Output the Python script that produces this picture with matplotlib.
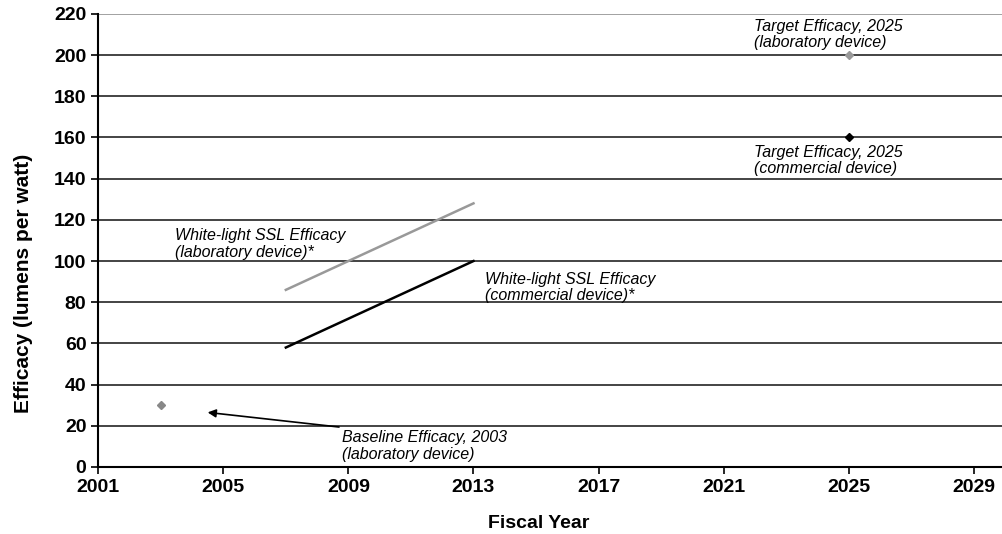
import matplotlib.pyplot as plt

plt.rcParams['font.family'] = ['Liberation Sans', 'DejaVu Sans']

# white-light SSL efficacy trend lines
years_line = [2007, 2013]
lab_efficacy = [86, 128]
commercial_efficacy = [58, 100]

# single points
baseline_year = [2003]
baseline_value = [30]
target_year = [2025]
target_lab = [200]
target_commercial = [160]

x_ticks = [2001, 2005, 2009, 2013, 2017, 2021, 2025, 2029]
y_ticks = list(range(0, 221, 20))

fig = plt.figure(figsize=(10.02, 5.34), dpi=100)
ax = fig.add_axes([0.098, 0.1255, 0.902, 0.8485])

for y in y_ticks[1:-1]:
    ax.axhline(y, color='#111111', lw=1.1, zorder=1)
ax.axhline(220, color='#888888', lw=1.1, zorder=1)

ax.plot(years_line, lab_efficacy, color='#999999', lw=1.8, zorder=3)
ax.plot(years_line, commercial_efficacy, color='black', lw=1.8, zorder=3)

ax.plot(baseline_year, baseline_value, marker='D', ms=4.5, color='#888888', ls='none', zorder=4)
ax.plot(target_year, target_lab, marker='D', ms=4.5, color='#999999', ls='none', zorder=4)
ax.plot(target_year, target_commercial, marker='D', ms=4.5, color='black', ls='none', zorder=4)

txt = dict(fontsize=11.5, style='italic', ha='left', va='center', linespacing=1.1)
ax.text(2021.98, 209.8, 'Target Efficacy, 2025\n(laboratory device)', **txt)
ax.text(2021.98, 149, 'Target Efficacy, 2025\n(commercial device)', **txt)
ax.text(2003.46, 108.3, 'White-light SSL Efficacy\n(laboratory device)*', **txt)
ax.text(2013.36, 87, 'White-light SSL Efficacy\n(commercial device)*', **txt)
ax.text(2008.79, 10.2, 'Baseline Efficacy, 2003\n(laboratory device)', **txt)

ax.annotate('', xy=(2004.5, 26.5), xytext=(2008.7, 19.4),
            arrowprops=dict(arrowstyle='-|>', color='black', lw=1.2,
                            mutation_scale=12, shrinkA=0, shrinkB=0))

ax.set_xlim(2001, 2029.9)
ax.set_ylim(0, 220)
ax.set_xticks(x_ticks)
ax.set_yticks(y_ticks)
ax.tick_params(axis='both', direction='out', length=5, width=1.2, labelsize=14)
for lab in ax.get_xticklabels() + ax.get_yticklabels():
    lab.set_fontweight('bold')

ax.spines['top'].set_visible(False)
ax.spines['right'].set_visible(False)
ax.spines['left'].set_linewidth(1.5)
ax.spines['bottom'].set_linewidth(1.5)

ax.set_xlabel('Fiscal Year', fontsize=14, fontweight='bold')
ax.set_ylabel('Efficacy (lumens per watt)', fontsize=15, fontweight='bold')
ax.xaxis.set_label_coords(0.487, -0.106)
ax.yaxis.set_label_coords(-0.072, 0.406)

fig.savefig('out.png', dpi=100)
